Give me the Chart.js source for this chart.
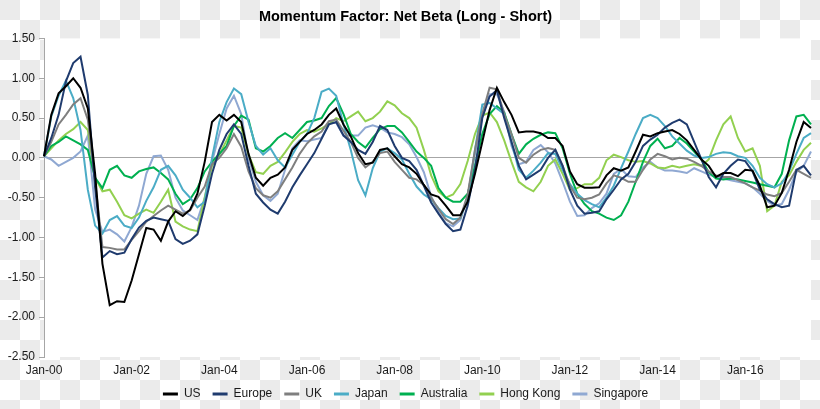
<!DOCTYPE html>
<html>
<head>
<meta charset="utf-8">
<script src="https://cdn.jsdelivr.net/npm/chart.js@4.4.1/dist/chart.umd.min.js"></script>
<style>
  html, body { margin: 0; padding: 0; }
  body {
    width: 820px;
    height: 409px;
    background: repeating-conic-gradient(#ffffff 0% 25%, #ebebeb 0% 50%) 0 0 / 40px 40px;
  }
  #wrap { width: 820px; height: 409px; }
</style>
</head>
<body>
<div id="wrap"><canvas id="betaChart" width="820" height="409"></canvas></div>
<script>
// bimonthly samples, Jan-00 .. Jul-17
const monthNames = ['Jan', 'Feb', 'Mar', 'Apr', 'May', 'Jun', 'Jul', 'Aug', 'Sep', 'Oct', 'Nov', 'Dec'];
const categories = [];
for (let m = 0; m <= 210; m += 2) {
  categories.push(monthNames[m % 12] + '-' + String(Math.floor(m / 12)).padStart(2, '0'));
}
const tickLabels = ['Jan-00', 'Jan-02', 'Jan-04', 'Jan-06', 'Jan-08', 'Jan-10', 'Jan-12', 'Jan-14', 'Jan-16'];

const seriesNames = ['US', 'Europe', 'UK', 'Japan', 'Australia', 'Hong Kong', 'Singapore'];
const seriesColors = ['#000000', '#1f3b6e', '#7f7f7f', '#4bacc6', '#00b050', '#92d050', '#8fa8d2'];

const us = [
  0.02, 0.54, 0.81, 0.9, 1.0, 0.88, 0.62, -0.2, -1.33, -1.85,
  -1.8, -1.81, -1.54, -1.21, -0.88, -0.9, -1.04, -0.8, -0.67, -0.73,
  -0.65, -0.45, -0.05, 0.45, 0.54, 0.47, 0.54, 0.45, 0.05, -0.25,
  -0.35, -0.25, -0.21, -0.12, 0.1, 0.2, 0.3, 0.35, 0.42, 0.54,
  0.62, 0.42, 0.27, 0.06, -0.08, -0.06, 0.1, 0.12, 0.02, -0.08,
  -0.12, -0.2, -0.34, -0.46, -0.49, -0.6, -0.72, -0.72, -0.55, -0.2,
  0.2, 0.6, 0.88, 0.7, 0.54, 0.32, 0.33, 0.33, 0.31, 0.25,
  0.25, 0.15, -0.17, -0.33, -0.375, -0.375, -0.37, -0.22, -0.13, -0.16,
  -0.12, 0.08, 0.29, 0.27, 0.31, 0.33, 0.35, 0.3, 0.22, 0.1,
  -0.02, -0.1, -0.24, -0.19, -0.19, -0.23, -0.15, -0.16, -0.35, -0.62,
  -0.6, -0.44, -0.15, 0.2, 0.45, 0.375
];
const europe = [
  0.02, 0.25, 0.54, 0.96, 1.19, 1.27, 0.79, -0.375, -1.25, -1.17,
  -1.21, -1.19, -1.02, -0.875, -0.79, -0.75, -0.77, -0.79, -1.02, -1.08,
  -1.04, -0.96, -0.6, -0.2, 0.1, 0.3, 0.42, 0.3, -0.1, -0.45,
  -0.56, -0.65, -0.7, -0.55, -0.37, -0.22, -0.08, 0.06, 0.24, 0.42,
  0.45, 0.28, 0.2, 0.1, 0.05, 0.2, 0.4, 0.35, 0.15, 0.0,
  -0.04, -0.15, -0.35, -0.56, -0.7, -0.83, -0.92, -0.9, -0.6, -0.15,
  0.5, 0.77, 0.85, 0.5, 0.2, -0.1, -0.27, -0.21, -0.15, 0.0,
  0.1, -0.1, -0.4, -0.6, -0.7, -0.69, -0.67, -0.52, -0.4, -0.27,
  -0.2, -0.05, 0.15, 0.23, 0.29, 0.38, 0.44, 0.48, 0.42, 0.2,
  -0.02, -0.24, -0.37, -0.2, -0.1, -0.02, -0.04, -0.17, -0.4, -0.52,
  -0.58, -0.62, -0.6, -0.15, -0.1, -0.22
];
const uk = [
  0.02, 0.2, 0.42, 0.54, 0.67, 0.75, 0.48, -0.3, -1.12, -1.13,
  -1.15, -1.15, -1.03, -0.92, -0.8, -0.73, -0.66, -0.6, -0.65, -0.7,
  -0.66, -0.5, -0.36, -0.08, 0.0, 0.12, 0.3, 0.14, -0.17, -0.38,
  -0.47, -0.5, -0.42, -0.27, -0.12, 0.05, 0.18, 0.27, 0.33, 0.46,
  0.48, 0.34, 0.2, 0.0, -0.12, -0.05, 0.06, 0.08, -0.05, -0.15,
  -0.25, -0.27, -0.34, -0.5, -0.64, -0.77, -0.83, -0.75, -0.46, 0.1,
  0.55, 0.88, 0.86, 0.55, 0.3, 0.0, -0.06, 0.04, 0.1, 0.125,
  0.1, -0.1, -0.35, -0.5, -0.52, -0.5, -0.46, -0.32, -0.22, -0.25,
  -0.3, -0.3, -0.15, -0.02, 0.05, 0.02, -0.02, 0.0, -0.01, -0.05,
  -0.1, -0.17, -0.22, -0.24, -0.24, -0.28, -0.32, -0.37, -0.41, -0.46,
  -0.48, -0.44, -0.3, -0.15, -0.2, -0.25
];
const japan = [
  0.02, 0.52, 0.78, 0.97, 0.75, 0.35, -0.4, -0.85, -0.95, -0.78,
  -0.73, -0.85, -0.88, -0.75, -0.54, -0.37, -0.15, -0.1, -0.22, -0.4,
  -0.5, -0.62, -0.55, 0.0, 0.45, 0.7, 0.87, 0.8, 0.45, 0.15,
  0.04, 0.12, -0.03, -0.12, 0.04, 0.2, 0.3, 0.5, 0.83, 0.87,
  0.78, 0.42, 0.1, -0.28, -0.47, -0.13, 0.08, 0.12, 0.06, -0.02,
  -0.2, -0.36, -0.46, -0.52, -0.63, -0.73, -0.77, -0.76, -0.5, 0.1,
  0.67, 0.69, 0.62, 0.55, 0.2, -0.15, -0.25, -0.16, -0.06, 0.06,
  0.05, -0.15, -0.33, -0.45, -0.53, -0.58, -0.62, -0.5, -0.35, -0.13,
  0.08, 0.3, 0.5, 0.54, 0.5, 0.4, 0.27, 0.18, 0.09, 0.03,
  0.0, 0.01, 0.05, 0.07, 0.06, 0.02, 0.0, -0.1, -0.25, -0.33,
  -0.37, -0.32, -0.17, 0.05, 0.25, 0.31
];
const australia = [
  0.02, 0.15, 0.2, 0.27, 0.22, 0.17, 0.1, -0.25, -0.38, -0.15,
  -0.1, -0.22, -0.25, -0.17, -0.14, -0.12, -0.19, -0.27, -0.45, -0.58,
  -0.52, -0.38, -0.17, -0.05, 0.05, 0.15, 0.4, 0.53, 0.48, 0.12,
  0.08, 0.15, 0.25, 0.31, 0.25, 0.35, 0.45, 0.47, 0.5, 0.65,
  0.75, 0.55, 0.3, 0.2, 0.13, 0.25, 0.36, 0.4, 0.4, 0.32,
  0.2, 0.08, 0.0, -0.1, -0.38, -0.5, -0.55, -0.55, -0.45, -0.1,
  0.3, 0.55, 0.65, 0.57, 0.3, 0.05, 0.17, 0.24, 0.29, 0.32,
  0.31, 0.12, -0.2, -0.45, -0.58, -0.67, -0.7, -0.75, -0.78, -0.72,
  -0.55, -0.3, -0.05, 0.15, 0.24, 0.12, 0.15, 0.25, 0.18, 0.08,
  -0.02, -0.18, -0.26, -0.27, -0.26, -0.27, -0.29, -0.31, -0.33, -0.35,
  -0.37, -0.2, 0.22, 0.52, 0.54, 0.42
];
const hongKong = [
  0.02, 0.12, 0.22, 0.3, 0.36, 0.45, 0.35, -0.25, -0.42, -0.4,
  -0.55, -0.72, -0.76, -0.7, -0.65, -0.69, -0.55, -0.4, -0.8, -0.86,
  -0.9, -0.92, -0.5, -0.1, 0.04, 0.22, 0.4, 0.38, 0.04, -0.18,
  -0.2, -0.1, -0.05, 0.07, 0.2, 0.3, 0.35, 0.33, 0.37, 0.42,
  0.5, 0.46, 0.52, 0.58, 0.46, 0.5, 0.58, 0.71, 0.66, 0.56,
  0.5, 0.38, 0.1, -0.22, -0.42, -0.5, -0.46, -0.33, -0.04, 0.3,
  0.53, 0.57, 0.45, 0.22, -0.05, -0.3, -0.37, -0.42, -0.3, -0.1,
  -0.02, -0.2, -0.4, -0.38, -0.33, -0.33, -0.25, -0.03, 0.04, 0.01,
  -0.03, -0.05, -0.04, -0.07, -0.12, -0.13, -0.1, -0.12, -0.1, -0.08,
  -0.1, -0.02, 0.22, 0.42, 0.52, 0.25, 0.08, 0.12, -0.1, -0.67,
  -0.6, -0.3, -0.22, -0.05, 0.1, 0.19
];
const singapore = [
  0.02, -0.02, -0.1, -0.05, 0.0, 0.08, 0.28, -0.65, -0.93, -0.9,
  -0.96, -1.05, -0.87, -0.6, -0.2, 0.02, 0.03, -0.15, -0.5, -0.66,
  -0.72, -0.78, -0.5, -0.05, 0.3, 0.62, 0.78, 0.55, 0.0, -0.3,
  -0.47, -0.54, -0.45, -0.15, 0.12, 0.22, 0.21, 0.23, 0.25, 0.43,
  0.44, 0.28, 0.28, 0.28, 0.38, 0.41, 0.38, 0.32, 0.3, 0.26,
  0.17, 0.01, -0.18, -0.48, -0.68, -0.82, -0.86, -0.78, -0.48, 0.05,
  0.52, 0.8, 0.8, 0.58, 0.15, -0.08, -0.05, 0.1, 0.16, 0.07,
  -0.07, -0.3, -0.55, -0.73, -0.72, -0.63, -0.57, -0.45, -0.2, -0.14,
  -0.23, -0.24, -0.12, -0.05, -0.12, -0.16, -0.16, -0.17, -0.19, -0.13,
  -0.17, -0.21, -0.24, -0.26, -0.28, -0.3, -0.32, -0.37, -0.45, -0.54,
  -0.6, -0.58, -0.4, -0.18, -0.1, 0.08
];

const seriesValues = [us, europe, uk, japan, australia, hongKong, singapore];

const FONT = "'Liberation Sans', Arial, sans-serif";
Chart.defaults.font.family = FONT;
Chart.defaults.color = '#1a1a1a';

// white plot area, the rest of the picture stays transparent
const plotBackground = {
  id: 'plotBackground',
  beforeDraw(chart) {
    const { ctx, chartArea } = chart;
    ctx.save();
    ctx.fillStyle = '#ffffff';
    ctx.fillRect(chartArea.left, chartArea.top, chartArea.right - chartArea.left, chartArea.bottom - chartArea.top);
    ctx.restore();
  },
};

new Chart(document.getElementById('betaChart'), {
  type: 'line',
  data: {
    labels: categories,
    datasets: seriesNames.map((name, i) => ({
      label: name,
      data: seriesValues[i],
      borderColor: seriesColors[i],
      backgroundColor: seriesColors[i],
      borderWidth: 2,
      pointRadius: 0,
      tension: 0,
    })),
  },
  options: {
    responsive: false,
    animation: false,
    layout: { padding: { left: 0, right: 9, top: 0, bottom: -1 } },
    plugins: {
      title: {
        display: true,
        text: 'Momentum Factor: Net Beta (Long - Short)',
        color: '#000000',
        font: { size: 14.5, weight: 'bold' },
        padding: { top: 8, bottom: 13 },
      },
      legend: {
        position: 'bottom',
        labels: {
          boxWidth: 15,
          boxHeight: 3,
          padding: 12,
          color: '#1a1a1a',
          font: { size: 12 },
          generateLabels(chart) {
            return Chart.defaults.plugins.legend.labels.generateLabels(chart)
              .map((item) => ({ ...item, lineWidth: 0 }));
          },
        },
      },
      tooltip: { enabled: false },
    },
    scales: {
      x: {
        grid: { display: false, drawTicks: false },
        border: { display: false },
        ticks: {
          autoSkip: false,
          maxRotation: 0,
          minRotation: 0,
          padding: 6,
          font: { size: 12 },
          callback: (value, index) => (index % 12 === 0 ? tickLabels[index / 12] : ''),
        },
        afterFit: (scale) => { scale.height = 19; },
      },
      y: {
        min: -2.5,
        max: 1.5,
        ticks: {
          stepSize: 0.5,
          padding: 4,
          font: { size: 12 },
          callback: (value) => value.toFixed(2),
        },
        grid: {
          color: (ctx) => (ctx.tick && ctx.tick.value === 0 ? '#a6a6a6' : 'rgba(0,0,0,0)'),
          tickColor: '#a6a6a6',
          tickLength: 5,
        },
        border: { color: '#a6a6a6' },
        afterFit: (scale) => { scale.width = 44; },
      },
    },
  },
  plugins: [plotBackground],
});
</script>
</body>
</html>
